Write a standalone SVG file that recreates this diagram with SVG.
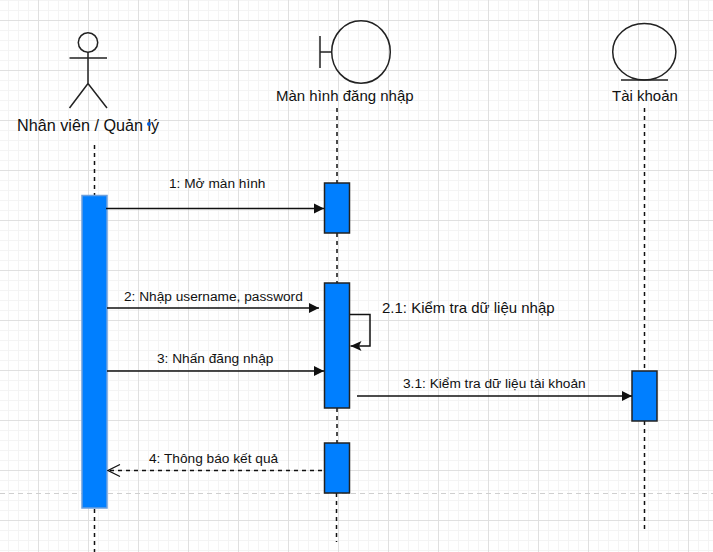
<svg xmlns="http://www.w3.org/2000/svg" width="713" height="552" viewBox="0 0 713 552">
<style>
text{font-family:"Liberation Sans",Arial,sans-serif;fill:#111}
.t12{font-size:13.700px}.t14{font-size:15px}.t16{font-size:16.200px}
.s{fill:none;stroke:#222;stroke-width:1.5}
.ln{fill:none;stroke:#111;stroke-width:1.5}
.life{fill:none;stroke:#111;stroke-width:1.5;stroke-dasharray:4 4}
.act{fill:#007fff;stroke:#222;stroke-width:1.5}
</style>
<defs>
<pattern id="minor" width="10" height="10" patternUnits="userSpaceOnUse" x="-2" y="0"><path d="M0.5 0V10M0 0.5H10" fill="none" stroke="#f4f4f4" stroke-width="1"/></pattern>
<pattern id="major" width="50" height="50" patternUnits="userSpaceOnUse" x="-12" y="20"><path d="M0.5 0V50M0 0.5H50" fill="none" stroke="#e0e0e0" stroke-width="1"/></pattern>
<marker id="block" markerWidth="11" markerHeight="11" refX="10" refY="5.5" orient="auto" markerUnits="userSpaceOnUse"><path d="M0 0.5L10 5.5L0 10.5z" fill="#111"/></marker>
<marker id="classic" markerWidth="12" markerHeight="12" refX="11" refY="6" orient="auto" markerUnits="userSpaceOnUse"><path d="M0 1L11 6L0 11L2.5 6z" fill="#111"/></marker>
<marker id="open" markerWidth="14" markerHeight="14" refX="13" refY="7" orient="auto" markerUnits="userSpaceOnUse"><path d="M1 1L13 7L1 13" fill="none" stroke="#111" stroke-width="1.2"/></marker>
</defs>
<rect width="713" height="552" fill="#fff"/>
<rect width="713" height="552" fill="url(#minor)"/>
<rect width="713" height="552" fill="url(#major)"/>
<path d="M0 493.5H713" fill="none" stroke="#cfcfcf" stroke-dasharray="5 4"/>
<g id="lifelines">
<path class="life" d="M94.5 145V195M94.5 509V552"/>
<path class="life" d="M337 108V183M337 233V283M337 408V443M336.5 493V542"/>
<path class="life" d="M644.5 108V371M644.5 421V530"/>
</g>
<g id="actor-nhan-vien">
<circle class="s" cx="88" cy="42.5" r="9.7"/>
<path class="s" d="M88 52V83.500M69.500 58H107M69.500 108L88 83.500L107 108"/>
<text class="t16" x="17" y="131">Nhân viên / Quản lý</text>
<circle cx="149" cy="124" r="2" fill="#0a5fd8"/>
<rect x="82" y="195.500" width="25" height="312.500" fill="#007fff" stroke="#6c9fdc" stroke-width="1.500"/>
</g>
<g id="boundary-man-hinh">
<ellipse class="s" cx="361" cy="52" rx="29.300" ry="31.300"/>
<path class="s" d="M320 36V68M320 52H331.700"/>
<text class="t14" x="276" y="101">Màn hình đăng nhập</text>
<rect class="act" x="324.500" y="183" width="25" height="50"/>
<rect class="act" x="324.500" y="283" width="25" height="125"/>
<rect class="act" x="324.500" y="443" width="25" height="50"/>
</g>
<g id="entity-tai-khoan">
<ellipse class="s" cx="644.300" cy="51.700" rx="31.600" ry="28.300"/>
<path class="s" d="M621 80H668"/>
<text class="t14" x="612" y="101">Tài khoản</text>
<rect class="act" x="632" y="371" width="25" height="50"/>
</g>
<g id="connectors">
<path class="ln" d="M106 208.500H324" marker-end="url(#block)"/>
<path class="ln" d="M107 308H319" marker-end="url(#block)"/>
<path class="ln" d="M107 371H324" marker-end="url(#block)"/>
<path class="ln" d="M357 396H632" marker-end="url(#block)"/>
<path class="ln" d="M350 314.500H370V346H350.500" marker-end="url(#classic)"/>
<path class="ln" d="M322 470.500H108" stroke-dasharray="4 4" marker-end="url(#open)"/>
</g>
<g id="labels">
<text class="t12" x="169" y="188">1: Mở màn hình</text>
<text class="t12" x="124" y="301">2: Nhập username, password</text>
<text class="t12" x="157" y="363">3: Nhấn đăng nhập</text>
<text class="t14" x="382" y="313">2.1: Kiểm tra dữ liệu nhập</text>
<text class="t12" x="403" y="388">3.1: Kiểm tra dữ liệu tài khoản</text>
<text class="t12" x="149" y="463">4: Thông báo kết quả</text>
</g>
</svg>
